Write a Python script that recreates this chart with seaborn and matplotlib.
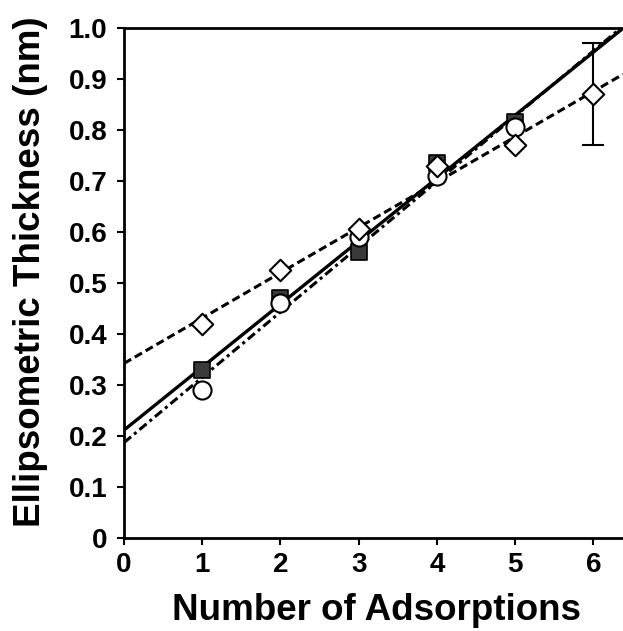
import numpy as np
import pandas as pd
import seaborn as sns
import matplotlib
matplotlib.use("Agg")
import matplotlib.pyplot as plt

# Data
adsorptions = [1, 2, 3, 4, 5]
thickness_square = [0.33, 0.47, 0.56, 0.735, 0.815]
thickness_circle = [0.29, 0.46, 0.59, 0.71, 0.805]
adsorptions_diamond = [1, 2, 3, 4, 5, 6]
thickness_diamond = [0.42, 0.525, 0.605, 0.73, 0.77, 0.87]
diamond_err_x = [6]
diamond_err_y = [0.87]
diamond_err = [0.10]

x_ticks = [0, 1, 2, 3, 4, 5, 6]
y_ticks = [0, 0.1, 0.2, 0.3, 0.4, 0.5, 0.6, 0.7, 0.8, 0.9, 1.0]
y_ticklabels = ["0", "0.1", "0.2", "0.3", "0.4", "0.5", "0.6", "0.7", "0.8", "0.9", "1.0"]

sns.set_style("white")
plt.rcParams['font.family'] = ['Liberation Sans', 'DejaVu Sans']
plt.rcParams['font.weight'] = 'bold'
plt.rcParams['text.color'] = 'black'
plt.rcParams['axes.labelcolor'] = 'black'
plt.rcParams['xtick.color'] = 'black'
plt.rcParams['ytick.color'] = 'black'

fig = plt.figure(figsize=(6.23, 6.31), dpi=100)
ax = fig.add_axes([0.199, 0.1474, 0.801, 0.8082])
ax.set_xlim(0, 6.38)
ax.set_ylim(0, 1.0)

df_sq = pd.DataFrame({"x": adsorptions, "y": thickness_square})
df_ci = pd.DataFrame({"x": adsorptions, "y": thickness_circle})
df_di = pd.DataFrame({"x": adsorptions_diamond, "y": thickness_diamond})

# Fit lines
sns.regplot(data=df_di, x="x", y="y", ax=ax, ci=None, truncate=False, scatter=False,
            line_kws=dict(color="black", lw=2.2, ls=(0, (2.7, 1.4))))
sns.regplot(data=df_ci, x="x", y="y", ax=ax, ci=None, truncate=False, scatter=False,
            line_kws=dict(color="black", lw=2.2, ls=(0, (3, 1.3, 1, 1.3))))
sns.regplot(data=df_sq, x="x", y="y", ax=ax, ci=None, truncate=False, scatter=False,
            line_kws=dict(color="black", lw=2.4, ls="-"))

# Error bar
ax.errorbar(diamond_err_x, diamond_err_y, yerr=diamond_err, fmt="none", ecolor="black",
            elinewidth=1.5, capsize=8, capthick=1.5, zorder=3)

# Markers
sns.scatterplot(data=df_sq, x="x", y="y", ax=ax, marker="s", s=130, color="#3a3a3a",
                edgecolor="black", linewidth=1.2, zorder=4, legend=False)
sns.scatterplot(data=df_ci, x="x", y="y", ax=ax, marker="o", s=170, color="white",
                edgecolor="black", linewidth=1.5, zorder=5, legend=False)
sns.scatterplot(data=df_di, x="x", y="y", ax=ax, marker="D", s=120, color="white",
                edgecolor="black", linewidth=1.5, zorder=5, legend=False)

ax.set_xlim(0, 6.38)
ax.set_ylim(0, 1.0)
ax.set_xticks(x_ticks)
ax.set_xticklabels([str(t) for t in x_ticks])
ax.set_yticks(y_ticks)
ax.set_yticklabels(y_ticklabels)
ax.tick_params(axis="both", which="major", labelsize=20, direction="out", length=5,
               width=1.5, color="black", labelcolor="black", bottom=True, left=True)
ax.tick_params(axis="y", pad=7)
ax.tick_params(axis="x", pad=5)
for lab in ax.get_xticklabels() + ax.get_yticklabels():
    lab.set_fontweight("bold")

ax.spines["right"].set_visible(False)
for s in ["left", "bottom", "top"]:
    ax.spines[s].set_color("black")
    ax.spines[s].set_linewidth(2)

ax.set_xlabel("Number of Adsorptions", fontsize=26.5, fontweight="bold", color="black")
ax.set_ylabel("Ellipsometric Thickness (nm)", fontsize=26.5, fontweight="bold", color="black")
ax.xaxis.set_label_coords(0.507, -0.108)
ax.yaxis.set_label_coords(-0.152, 0.523)

fig.savefig("out.png", dpi=100)
